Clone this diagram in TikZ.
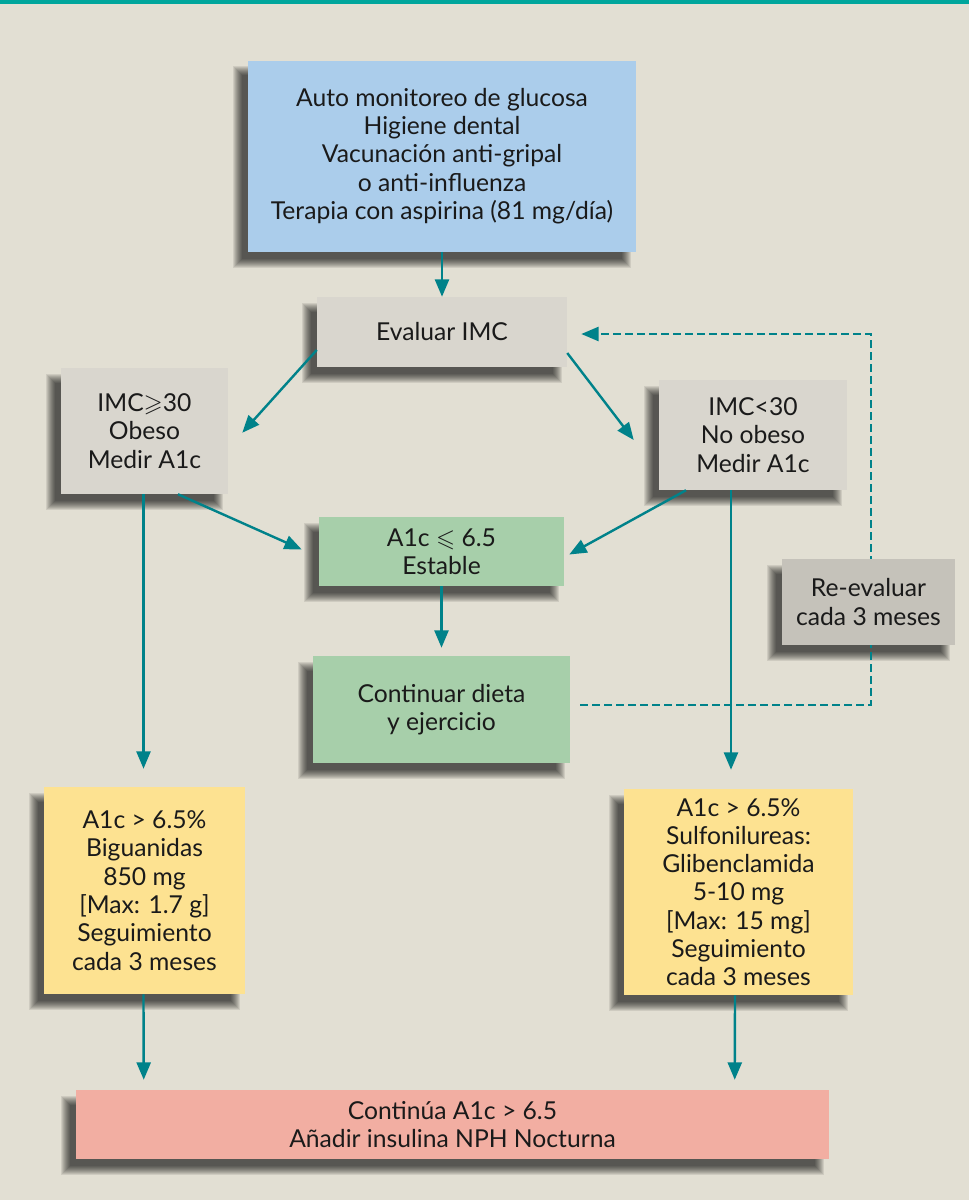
\documentclass[tikz,border=0pt]{standalone}
\usepackage{amssymb}
\usepackage{fontspec}
\setmainfont{Lato}
\usetikzlibrary{positioning,calc,arrows.meta,backgrounds}

\definecolor{fondo}{HTML}{E2DFD3}
\definecolor{franja}{HTML}{00A69C}
\definecolor{flechas}{HTML}{00828A}
\definecolor{azul}{HTML}{ABCDEB}
\definecolor{gris}{HTML}{D9D6CE}
\definecolor{grisosc}{HTML}{C5C2BA}
\definecolor{verde}{HTML}{A7CFAA}
\definecolor{amarillo}{HTML}{FDE291}
\definecolor{rosa}{HTML}{F2AEA2}
\definecolor{texto}{HTML}{1A1A1A}

\tikzset{
    caja/.style={inner sep=0pt, align=center, text=texto,
        font=\fontsize{18.5}{21.2}\selectfont},
    flecha/.style={draw=flechas, line width=1.8pt,
        -{Triangle[length=13pt,width=10.5pt]}},
    retorno/.style={flecha, line width=1.8pt, dash pattern=on 5.5pt off 3.5pt}
}

\begin{document}
\begin{tikzpicture}[x=0.75pt, y=-0.75pt]
    \useasboundingbox (0,0) rectangle (969,1200);

    % cajas
    \node[caja, fill=azul, minimum width=388*0.75pt, minimum height=191*0.75pt] (info) at (442,156)
        {Auto monitoreo de glucosa\\Higiene dental\\Vacunación anti-gripal\\o anti-influenza\\Terapia con aspirina (81 mg/día)};
    \node[caja, fill=gris, minimum width=250*0.75pt, minimum height=70*0.75pt] (eval) at (442,332) {Evaluar IMC};
    \node[caja, fill=gris, minimum width=167*0.75pt, minimum height=126*0.75pt] (obeso) at (144.5,431)
        {IMC$\geqslant$30\\Obeso\\Medir A1c};
    \node[caja, fill=gris, minimum width=188*0.75pt, minimum height=110*0.75pt] (noobeso) at (753,435)
        {IMC<30\\No obeso\\Medir A1c};
    \node[caja, fill=verde, minimum width=245*0.75pt, minimum height=69*0.75pt] (estable) at (441.5,551.5)
        {A1c $\leqslant$ 6.5\\Estable};
    \node[caja, fill=verde, minimum width=257*0.75pt, minimum height=107*0.75pt] (dieta) at (441.5,709.5)
        {Continuar dieta\\y ejercicio};
    \node[caja, fill=amarillo, minimum width=201*0.75pt, minimum height=207*0.75pt] (bigu) at (144.5,890.5)
        {A1c > 6.5\%\\Biguanidas\\850 mg\\{[}Max: 1.7 g{]}\\Seguimiento\\cada 3 meses};
    \node[caja, fill=amarillo, minimum width=229*0.75pt, minimum height=206*0.75pt] (sulfo) at (738.5,892)
        {A1c > 6.5\%\\Sulfonilureas:\\Glibenclamida\\5-10 mg\\{[}Max: 15 mg{]}\\Seguimiento\\cada 3 meses};
    \node[caja, fill=rosa, minimum width=753*0.75pt, minimum height=69*0.75pt] (insulina) at (452.5,1124.5)
        {Continúa A1c > 6.5\\Añadir insulina NPH Nocturna};

    % flechas
    \draw[flecha] (info.south) -- (eval.north);
    \draw[flecha] ($(eval.west)+(0,18)$) -- ($(obeso.north east)+(14,65)$);
    \draw[flecha] ($(eval.east)+(0,21)$) -- ($(noobeso.west)+(-25,5)$);
    \draw[flecha] ($(obeso.south)+(33.5,0)$) -- ($(estable.west)+(-17,-2)$);
    \draw[flecha] ($(noobeso.south)+(-67,0)$) -- ($(estable.east)+(5,3)$);
    \draw[flecha] ($(obeso.south)+(-1,0)$) -- ($(bigu.north)+(-1,-18)$);
    \draw[flecha] ($(noobeso.south)+(-22,0)$) -- ($(sulfo.north)+(-7.5,-19)$);
    \draw[flecha] (estable.south) -- ($(dieta.north)+(0,-8)$);
    \draw[flecha] ($(bigu.south)+(-1,0)$) -- ($(insulina.north west)+(68,-10)$);
    \draw[flecha] ($(sulfo.south)+(-3.5,0)$) -- ($(insulina.north west)+(659,-10)$);

    % lazo de re-evaluacion
    \coordinate (esquina) at (871,705);
    \draw[retorno] ($(dieta.east)+(10,-4.5)$) -- (esquina) |- ($(eval.east)+(14,2)$);
    \node[caja, fill=grisosc, minimum width=173*0.75pt, minimum height=86*0.75pt] (reeval) at (868.5,602)
        {Re-evaluar\\cada 3 meses};

    % fondo y sombras
    \begin{scope}[on background layer]
        \fill[fondo] (0,0) rectangle (969,1200);
        \fill[franja] (0,0) rectangle (969,3.5);
        \foreach \n in {info,eval,obeso,noobeso,estable,dieta,bigu,sulfo,insulina,reeval}
            \foreach \k in {0,...,9}
                \fill[black, opacity=0.085] ($(\n.south west)+(-15+\k,16-\k)$) rectangle ($(\n.north east)+(-5-\k,6+\k)$);
    \end{scope}
\end{tikzpicture}
\end{document}
